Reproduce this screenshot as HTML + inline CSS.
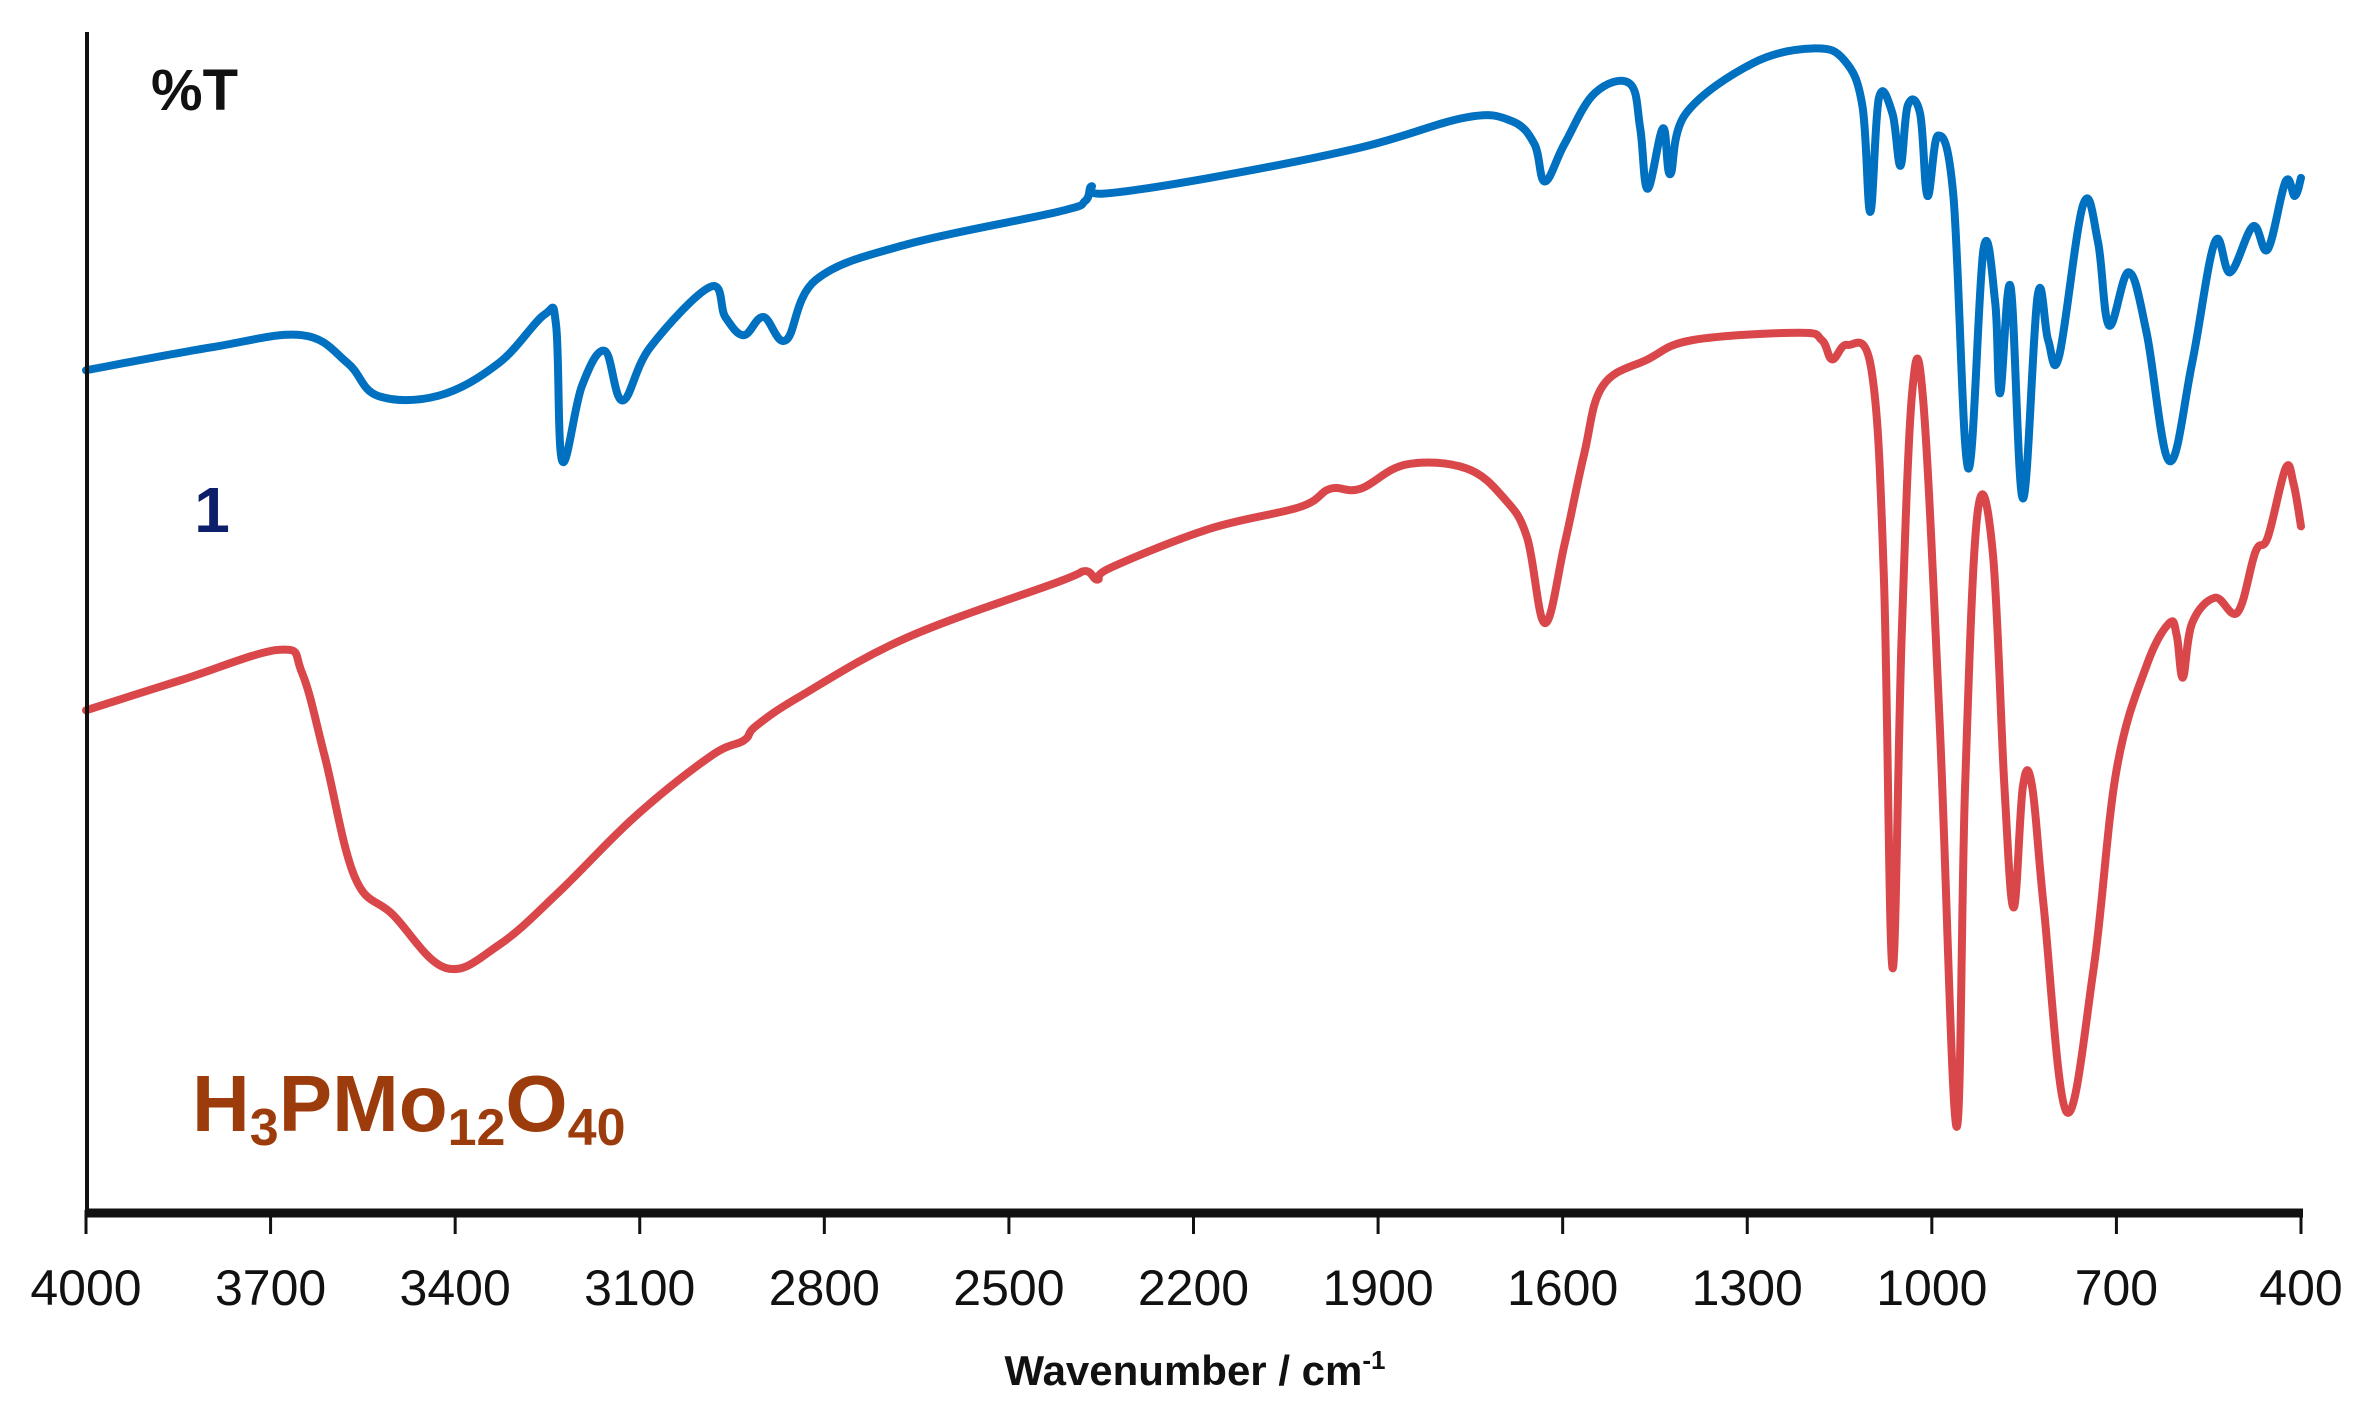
<!DOCTYPE html>
<html><head><meta charset="utf-8"><style>
html,body{margin:0;padding:0;background:#fff;}
svg{display:block;}
</style></head><body>
<svg id="chart" width="2371" height="1417" viewBox="0 0 2371 1417" xmlns="http://www.w3.org/2000/svg">
<rect width="2371" height="1417" fill="#fff"/>
<g id="series"></g>
<line x1="87" y1="32" x2="87" y2="1216" stroke="#111" stroke-width="4"/>
<line x1="86" y1="1213" x2="2303" y2="1213" stroke="#111" stroke-width="9"/>
<g id="ticks"></g>
<text x="151" y="110" font-family="Liberation Sans, sans-serif" font-weight="bold" font-size="58" fill="#111">%T</text>
<text x="212" y="532" text-anchor="middle" font-family="Liberation Sans, sans-serif" font-weight="bold" font-size="64" fill="#0d1f6b">1</text>
<text x="192" y="1131" font-family="Liberation Sans, sans-serif" font-weight="bold" font-size="80" fill="#9c3c0c">H<tspan font-size="52" dy="14">3</tspan><tspan dy="-14">PMo</tspan><tspan font-size="52" dy="14">12</tspan><tspan dy="-14">O</tspan><tspan font-size="52" dy="14">40</tspan></text>
<text x="1195" y="1385" text-anchor="middle" font-family="Liberation Sans, sans-serif" font-weight="bold" font-size="42" fill="#111">Wavenumber / cm<tspan font-size="26" dy="-16">-1</tspan></text>
</svg>
<script>
const tickLabels = [4000,3700,3400,3100,2800,2500,2200,1900,1600,1300,1000,700,400];
const blueWn = [4000,3796,3649,3575,3526,3427,3329,3255,3236,3226,3194,3157,3128,3083,2985,2961,2931,2899,2862,2813,2666,2420,2376,2366,2346,2174,1929,1757,1683,1646,1629,1597,1548,1491,1474,1462,1437,1425,1400,1290,1191,1142,1113,1100,1086,1064,1051,1039,1019,1007,990,965,941,916,897,889,872,852,828,811,793,754,730,712,680,651,614,577,540,515,478,454,425,410,400];
const blueT = [69.4,71.3,72.3,70,67.3,67.3,70,74,73.1,61.9,68.1,71,66.9,71.3,76.3,73.8,72.3,73.8,71.9,76.9,79.8,82.5,83.4,84.6,84,85.3,87.8,90.3,90,88.1,85,88.1,92.3,93.1,89.4,84.4,89.4,85.6,90.6,94.8,96,95,91.3,82.5,91.9,90.6,86.3,91.3,90.6,83.8,88.8,83.8,61.3,79.4,75,67.5,76.3,58.8,75.6,71.9,70.6,83.1,80,73.1,77.5,72.5,61.9,70,80,77.5,81.3,79.4,85,83.8,85.3];
const redWn = [4000,3845,3685,3649,3612,3563,3501,3415,3329,3231,3108,2985,2931,2911,2838,2666,2420,2376,2356,2334,2174,2027,1978,1929,1855,1757,1695,1658,1629,1597,1565,1535,1462,1388,1216,1179,1162,1137,1098,1078,1064,1049,1032,1014,987,960,946,926,901,882,867,852,837,818,781,737,700,651,614,602,592,577,540,503,474,454,425,412,400];
const redT = [41.3,43.8,46.3,44.4,37.5,27.5,24.4,20,21.9,26.3,32.5,37.5,38.8,40,42.5,47.3,51.9,52.8,52.1,53.1,56.3,58.1,59.6,59.6,61.6,61.3,58.8,55.6,48.5,55,62.5,68.1,70.3,71.9,72.5,71.9,70.3,71.5,69.4,52.5,20,47.5,67.5,66.9,40,6.9,35,57.5,54.4,35,25,35,35,25,8.1,20,36.3,45,48.5,47.5,44,48.5,50.6,49.4,54.4,55.6,61.3,60,56.5];

const NS = "http://www.w3.org/2000/svg";
function xScale(w){ return 86 + (4000 - w) / 3600 * 2215; }
function yScale(t){ return 1210 - t * 12.1; }

const series = document.getElementById('series');
function drawLine(wn, t, color, name){
  const pts = wn.map((w,i)=>[xScale(w), yScale(t[i])]);
  let d = 'M' + pts[0][0].toFixed(1) + ' ' + pts[0][1].toFixed(1);
  for(let i=0;i<pts.length-1;i++){
    const p0 = pts[Math.max(0,i-1)], p1 = pts[i], p2 = pts[i+1], p3 = pts[Math.min(pts.length-1,i+2)];
    const k = 0.18;
    const c1x = p1[0] + (p2[0]-p0[0])*k, c1y = p1[1] + (p2[1]-p0[1])*k;
    const c2x = p2[0] - (p3[0]-p1[0])*k, c2y = p2[1] - (p3[1]-p1[1])*k;
    d += ' C' + c1x.toFixed(1)+' '+c1y.toFixed(1)+' '+c2x.toFixed(1)+' '+c2y.toFixed(1)+' '+p2[0].toFixed(1)+' '+p2[1].toFixed(1);
  }
  const p = document.createElementNS(NS,'path');
  p.setAttribute('d', d);
  p.setAttribute('fill','none');
  p.setAttribute('stroke', color);
  p.setAttribute('stroke-width','8');
  p.setAttribute('stroke-linejoin','round');
  p.setAttribute('stroke-linecap','round');
  
  
  series.appendChild(p);
}
drawLine(blueWn, blueT, '#0070c0', 'series-compound-1');
drawLine(redWn, redT, '#d9474a', 'series-h3pmo12o40');

const ticks = document.getElementById('ticks');
tickLabels.forEach(v => {
  const x = xScale(v);
  const l = document.createElementNS(NS,'line');
  l.setAttribute('x1', x); l.setAttribute('x2', x);
  l.setAttribute('y1', 1210); l.setAttribute('y2', 1234);
  l.setAttribute('stroke','#111'); l.setAttribute('stroke-width','3');
  
  
  ticks.appendChild(l);
  const t = document.createElementNS(NS,'text');
  t.setAttribute('x', x); t.setAttribute('y', 1305);
  t.setAttribute('text-anchor','middle');
  t.setAttribute('font-family','Liberation Sans Narrow, Liberation Sans, sans-serif');
  t.setAttribute('font-size','50');
  t.setAttribute('fill','#111');
  t.textContent = v;
  
  
  ticks.appendChild(t);
});
</script>
</body></html>
